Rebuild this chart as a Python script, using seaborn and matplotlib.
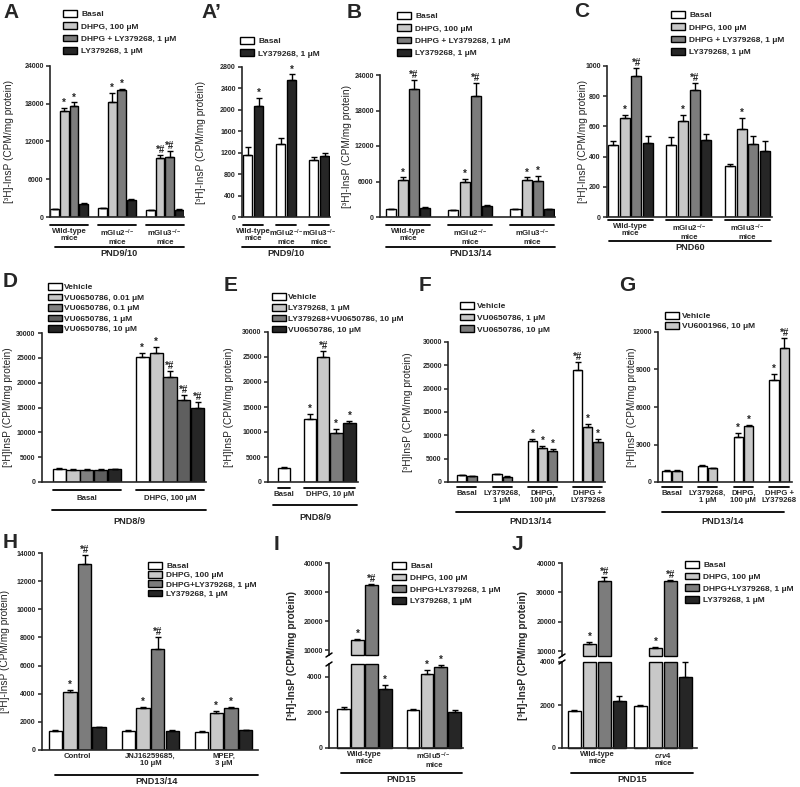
import numpy as np
import pandas as pd
import matplotlib
matplotlib.use("Agg")
import matplotlib.pyplot as plt
import seaborn as sns
from matplotlib.patches import Patch

# ---- data ----
MU = "\u03bcM"
WT = "Wild-type\nmice"

A_groups = [WT, "mGlu2$^{-/-}$\nmice", "mGlu3$^{-/-}$\nmice"]
A_series = ["Basal", f"DHPG, 100 {MU}", f"DHPG + LY379268, 1 {MU}", f"LY379268, 1 {MU}"]
A_mean = [[1250, 16850, 17650, 2100], [1400, 18250, 20200, 2700], [1050, 9400, 9500, 1150]]
A_sem = [[100, 450, 550, 120], [100, 1500, 220, 100], [80, 500, 1050, 80]]
A_marks = [["", "*", "*", ""], ["", "*", "*", ""], ["", "*#", "*#", ""]]

Ap_series = ["Basal", f"LY379268, 1 {MU}"]
Ap_mean = [[1160, 2070], [1360, 2550], [1060, 1140]]
Ap_sem = [[150, 150], [120, 110], [60, 60]]
Ap_marks = [["", "*"], ["", "*"], ["", ""]]

B_mean = [[1300, 6300, 21700, 1600], [1100, 6000, 20500, 1900], [1300, 6200, 6100, 1300]]
B_sem = [[100, 400, 1400, 100], [100, 500, 2200, 150], [100, 500, 800, 80]]
B_marks = [["", "*", "*#", ""], ["", "*", "*#", ""], ["", "*", "*", ""]]

C_mean = [[478, 654, 936, 493], [476, 639, 841, 511], [341, 584, 485, 438]]
C_sem = [[26, 22, 49, 44], [53, 37, 49, 37], [11, 72, 52, 62]]
C_marks = [["", "*", "*#", ""], ["", "*", "*#", ""], ["", "*", "", ""]]

D_groups = ["Basal", f"DHPG, 100 {MU}"]
D_series = ["Vehicle", f"VU0650786, 0.01 {MU}", f"VU0650786, 0.1 {MU}",
            f"VU0650786, 1 {MU}", f"VU0650786, 10 {MU}"]
D_mean = [[2650, 2450, 2450, 2450, 2550], [25100, 26000, 21100, 16500, 14800]]
D_sem = [[80, 250, 100, 120, 100], [900, 1200, 1300, 1000, 1400]]
D_marks = [["", "", "", "", ""], ["*", "*", "*#", "*#", "*#"]]

E_groups = ["Basal", f"DHPG, 10 {MU}"]
E_series = ["Vehicle", f"LY379268, 1 {MU}", f"LY379268+VU0650786, 10 {MU}", f"VU0650786, 10 {MU}"]
E_mean = [[2800, None, None, None], [12700, 24900, 9800, 11900]]
E_sem = [[200, None, None, None], [1000, 1300, 900, 400]]
E_marks = [["", "", "", ""], ["*", "*#", "*", "*"]]

F_groups = ["Basal", f"LY379268,\n1 {MU}", f"DHPG,\n100 {MU}", "DHPG +\nLY379268"]
F_series = ["Vehicle", f"VU0650786, 1 {MU}", f"VU0650786, 10 {MU}"]
F_mean = [[1400, None, 1200], [1700, None, 1150], [8700, 7300, 6600], [24100, 11700, 8500]]
F_sem = [[100, None, 80], [100, None, 100], [600, 500, 500], [1700, 700, 700]]
F_marks = [["", "", ""], ["", "", ""], ["*", "*", "*"], ["*#", "*", "*"]]

G_series = ["Vehicle", f"VU6001966, 10 {MU}"]
G_mean = [[900, 900], [1250, 1100], [3600, 4450], [8150, 10700]]
G_sem = [[50, 50], [100, 60], [300, 150], [500, 800]]
G_marks = [["", ""], ["", ""], ["*", "*"], ["*", "*#"]]

H_groups = ["Control", f"JNJ16259685,\n10 {MU}", f"MPEP,\n3 {MU}"]
H_series = ["Basal", f"DHPG, 100 {MU}", f"DHPG+LY379268, 1 {MU}", f"LY379268, 1 {MU}"]
H_mean = [[1350, 4120, 13200, 1600], [1350, 3000, 7200, 1350], [1300, 2650, 3000, 1400]]
H_sem = [[40, 150, 650, 60], [40, 80, 800, 40], [40, 100, 80, 50]]
H_marks = [["", "*", "*#", ""], ["", "*", "*#", ""], ["", "*", "*", ""]]

I_groups = [WT, "mGlu5$^{-/-}$\nmice"]
I_mean = [[2200, 13300, 32300, 3300], [2100, 4150, 4550, 2000]]
I_sem = [[100, 500, 300, 250], [80, 200, 100, 100]]
I_marks = [["", "*", "*#", "*"], ["", "*", "*", ""]]

J_groups = [WT, "$\\mathit{crv4}$\nmice"]
J_mean = [[1700, 12500, 33700, 2200], [1950, 11000, 33800, 3300]]
J_sem = [[50, 500, 1500, 200], [50, 500, 400, 700]]
J_marks = [["", "*", "*#", ""], ["", "*", "*#", ""]]

WHITE, LIGHT, MID, DARK = "#ffffff", "#c8c8c8", "#7c7c7c", "#262626"
PAL4 = [WHITE, LIGHT, MID, DARK]
PAL5 = [WHITE, LIGHT, "#808080", "#5f5f5f", DARK]

YLAB = "[\u00b3H]-InsP (CPM/mg protein)"
YLAB2 = "[\u00b3H]InsP (CPM/mg protein)"

# ---- style ----
W, H = 800, 787
sns.set_theme(style="ticks")
plt.rcParams["font.family"] = ["Liberation Sans", "DejaVu Sans"]
plt.rcParams["font.weight"] = "bold"
plt.rcParams["mathtext.fontset"] = "custom"
plt.rcParams["mathtext.rm"] = "Liberation Sans:bold"
plt.rcParams["mathtext.bf"] = "Liberation Sans:bold"
plt.rcParams["mathtext.it"] = "Liberation Sans:bold:italic"
plt.rcParams["axes.linewidth"] = 1.2

fig = plt.figure(figsize=(8, 7.87), dpi=100)


def px_axes(x0, x1, ytop, ybot):
    return fig.add_axes([x0 / W, 1 - ybot / H, (x1 - x0) / W, (ybot - ytop) / H])


def bar_frame(groups, series, means, sems, marks, gap=1.0):
    rows = []
    start = 0.0
    for gi, g in enumerate(groups):
        k = 0
        for si, s in enumerate(series):
            if means[gi][si] is None:
                continue
            rows.append(dict(group=g, series=s, pos=start + k, value=means[gi][si],
                             err=sems[gi][si], mark=marks[gi][si]))
            k += 1
        start += k + gap
    return pd.DataFrame(rows)


def style_ax(ax, ylim, yticks, xlim, bottom=True):
    ax.set_ylim(*ylim)
    ax.set_yticks(yticks)
    ax.set_yticklabels([str(t) for t in yticks])
    ax.set_xlim(*xlim)
    ax.set_xticks([])
    ax.set_xlabel("")
    ax.set_ylabel("")
    ax.tick_params(axis="y", labelsize=5, length=3, width=1.1, pad=1.5)
    for s in ["top", "right"]:
        ax.spines[s].set_visible(False)
    if not bottom:
        ax.spines["bottom"].set_visible(False)
    ax.set_facecolor("none")


def draw_bars(ax, df, series, colors, bw=0.9):
    sns.barplot(data=df, x="pos", y="value", hue="series", hue_order=series,
                palette=dict(zip(series, colors)), native_scale=True, dodge=False,
                width=bw, edgecolor="black", linewidth=1.0, errorbar=None,
                legend=False, ax=ax)


def draw_err(ax, df, pad, fs=7):
    if len(df) == 0:
        return
    ax.errorbar(df["pos"], df["value"], yerr=[np.zeros(len(df)), df["err"]], fmt="none",
                ecolor="black", elinewidth=1.0, capsize=2, capthick=1.0, zorder=3,
                clip_on=False)
    for _, r in df.iterrows():
        if r["mark"]:
            ax.text(r["pos"], r["value"] + r["err"] + pad, r["mark"], ha="center",
                    va="bottom", fontsize=fs, fontweight="bold")


def group_labels(ax, df, ax_h, lab_dy, line_dy=None, fs=5.6, over=0.45):
    tr = ax.get_xaxis_transform()
    for g, sub in df.groupby("group", sort=False):
        a, b = sub["pos"].min(), sub["pos"].max()
        if line_dy is not None:
            ax.plot([a - over, b + over], [-line_dy / ax_h] * 2, transform=tr,
                    clip_on=False, color="black", lw=1.3)
        ax.text((a + b) / 2, -lab_dy / ax_h, g, transform=tr, ha="center", va="top",
                fontsize=fs, linespacing=1.0)


def pnd(ax, ax_h, text, x0, x1, line_dy, text_dy, fs=6.6):
    tr = ax.get_xaxis_transform()
    ax.plot([x0, x1], [-line_dy / ax_h] * 2, transform=tr, clip_on=False, color="black", lw=1.3)
    ax.text((x0 + x1) / 2, -text_dy / ax_h, text, transform=tr, ha="center", va="center",
            fontsize=fs)


def legend(series, colors, x, y, spacing=0.5, fs=6, tpad=0.5):
    handles = [Patch(facecolor=c, edgecolor="black", linewidth=1.0, label=s)
               for s, c in zip(series, colors)]
    fig.legend(handles=handles, loc="upper left", bbox_to_anchor=(x / W, 1 - y / H),
               frameon=False, fontsize=fs, handlelength=1.7, handleheight=0.85,
               labelspacing=spacing, handletextpad=tpad, borderpad=0, borderaxespad=0)


def letter(t, x, y):
    fig.text(x / W, 1 - y / H, t, fontsize=15, fontweight="bold", va="top", ha="left")


def simple_panel(box, groups, series, colors, means, sems, marks, ylim, yticks, xlim,
                 gap=1.0, bw=0.9, underline=True, lab_dy=11, line_dy=8):
    x0, x1, yt, yb = box
    ax = px_axes(*box)
    df = bar_frame(groups, series, means, sems, marks, gap)
    draw_bars(ax, df, series, colors, bw)
    style_ax(ax, ylim, yticks, xlim)
    draw_err(ax, df, 0)
    group_labels(ax, df, yb - yt, lab_dy, line_dy if underline else None)
    return ax, df


# ---- top row ----
ax, df = simple_panel((50, 184, 66, 217), A_groups, A_series, PAL4, A_mean, A_sem, A_marks,
                      (0, 24000), [0, 6000, 12000, 18000, 24000], (-0.5, 13.5))
ax.set_ylabel(YLAB, fontsize=7.3); ax.yaxis.set_label_coords((14 - 50) / 134, 0.5)
pnd(ax, 151, "PND9/10", 0.0, 13.5, 30, 36)
legend(A_series, PAL4, 63, 10)
letter("A", 3, 3)

ax, df = simple_panel((242, 330, 67, 217), A_groups, Ap_series, [WHITE, DARK], Ap_mean, Ap_sem,
                      Ap_marks, (0, 2800), list(range(0, 2801, 400)), (-0.5, 7.5))
ax.set_ylabel(YLAB, fontsize=7.3); ax.yaxis.set_label_coords((206 - 242) / 88, 0.5)
pnd(ax, 150, "PND9/10", -0.5, 7.5, 30, 36)
legend(Ap_series, [WHITE, DARK], 240, 37)
letter("A\u2019", 201, 3)

ax, df = simple_panel((380, 555, 75, 217), A_groups, A_series, PAL4, B_mean, B_sem, B_marks,
                      (0, 24000), [0, 6000, 12000, 18000, 24000], (-1.0, 14.5), gap=1.5)
ax.set_ylabel(YLAB, fontsize=7.3); ax.yaxis.set_label_coords((352 - 380) / 175, 0.5)
pnd(ax, 142, "PND13/14", -0.5, 14.5, 30, 36)
legend(A_series, PAL4, 397, 12)
letter("B", 347, 3)

ax, df = simple_panel((607, 772, 66, 217), A_groups, A_series, PAL4, C_mean, C_sem, C_marks,
                      (0, 1000), list(range(0, 1001, 200)), (-0.5, 13.6), bw=0.85,
                      lab_dy=6, line_dy=3)
ax.set_ylabel(YLAB, fontsize=7.3); ax.yaxis.set_label_coords((588 - 607) / 165, 0.5)
pnd(ax, 151, "PND60", -0.3, 13.5, 24, 31)
legend(A_series, PAL4, 671, 11)
letter("C", 574, 2)

# ---- middle row ----
ax, df = simple_panel((42, 206, 333, 482), D_groups, D_series, PAL5, D_mean, D_sem, D_marks,
                      (0, 30000), list(range(0, 30001, 5000)), (-1.24, 10.6), bw=0.95,
                      lab_dy=13, line_dy=8)
ax.set_ylabel(YLAB2, fontsize=7.3); ax.yaxis.set_label_coords((13 - 42) / 164, 0.5)
pnd(ax, 149, "PND8/9", -0.5, 10.6, 28, 39)
legend(D_series, PAL5, 48, 283, spacing=0.28, tpad=0.2)
letter("D", 3, 272)

ax, df = simple_panel((268, 358, 332, 482), E_groups, E_series, PAL4, E_mean, E_sem, E_marks,
                      (0, 30000), list(range(0, 30001, 5000)), (-1.2, 5.65), bw=0.95,
                      lab_dy=9, line_dy=6)
ax.set_ylabel(YLAB2, fontsize=7.3); ax.yaxis.set_label_coords((234 - 268) / 90, 0.5)
pnd(ax, 150, "PND8/9", -0.8, 5.6, 23, 35)
legend(E_series, PAL4, 272, 293, spacing=0.32, tpad=0.2)
letter("E", 224, 276)

ax, df = simple_panel((448, 605, 342, 482), F_groups, F_series, [WHITE, LIGHT, MID], F_mean,
                      F_sem, F_marks, (0, 30000), list(range(0, 30001, 5000)), (-1.37, 14.2),
                      gap=1.5, bw=0.92, lab_dy=8, line_dy=5)
ax.set_ylabel(YLAB2, fontsize=7.3); ax.yaxis.set_label_coords((413 - 448) / 157, 0.5)
pnd(ax, 140, "PND13/14", -0.6, 14.2, 30, 40)
legend(F_series, [WHITE, LIGHT, MID], 460, 302, spacing=0.42, tpad=0.3)
letter("F", 419, 276)

ax, df = simple_panel((658, 792, 332, 482), F_groups, G_series, [WHITE, LIGHT], G_mean, G_sem,
                      G_marks, (0, 12000), [0, 3000, 6000, 9000, 12000], (-0.85, 12.25),
                      gap=1.5, bw=0.92, lab_dy=8, line_dy=5)
ax.set_ylabel(YLAB2, fontsize=7.3); ax.yaxis.set_label_coords((637 - 658) / 134, 0.5)
pnd(ax, 150, "PND13/14", -0.5, 11.5, 30, 40)
legend(G_series, [WHITE, LIGHT], 665, 312, spacing=0.2, tpad=0.3)
letter("G", 619, 276)

# ---- bottom row ----
ax, df = simple_panel((42, 258, 553, 750), H_groups, H_series, PAL4, H_mean, H_sem, H_marks,
                      (0, 14000), list(range(0, 14001, 2000)), (-0.91, 13.85), bw=0.92,
                      underline=False, lab_dy=3)
ax.set_ylabel(YLAB, fontsize=7.3); ax.yaxis.set_label_coords((10 - 42) / 216, 0.5)
pnd(ax, 197, "PND13/14", 0.0, 13.85, 25, 32)
legend(H_series, PAL4, 148, 562, spacing=0.12)
letter("H", 3, 533)


def broken_panel(x0, x1, up, low, groups, means, sems, marks, upper_lim, lower_lim,
                 lower_ticks, xlim, gap, ylab_x, legend_xy, let, let_xy):
    df = bar_frame(groups, H_series, means, sems, marks, gap)
    ax_u = px_axes(x0, x1, up[0], up[1])
    ax_l = px_axes(x0, x1, low[0], low[1])
    for ax, lim, ticks, is_low in [(ax_u, upper_lim, [10000, 20000, 30000, 40000], False),
                                   (ax_l, lower_lim, lower_ticks, True)]:
        draw_bars(ax, df, H_series, PAL4, 0.92)
        style_ax(ax, lim, ticks, xlim, bottom=is_low)
        # cut the bars at the axis break so both pieces stay closed boxes
        for p in ax.patches:
            p.set_clip_on(False)
            top = p.get_y() + p.get_height()
            if is_low and top > lim[1]:
                p.set_height(lim[1])
            if not is_low:
                if top > lim[0]:
                    p.set_y(lim[0]); p.set_height(top - lim[0])
                else:
                    p.set_visible(False)
    draw_err(ax_u, df[df["value"] > upper_lim[0]], 0)
    draw_err(ax_l, df[df["value"] < lower_lim[1]], 0)
    # break marks on the y axis
    for yy in (up[1], low[0]):
        fig.add_artist(plt.Line2D([(x0 - 3) / W, (x0 + 3) / W],
                                  [1 - (yy + 2) / H, 1 - (yy - 2) / H],
                                  color="black", lw=1.1))
    group_labels(ax_l, df, low[1] - low[0], 3, None)
    pnd(ax_l, low[1] - low[0], "PND15", -0.2, df["pos"].max() + 0.5, 25, 32)
    fig.text(ylab_x / W, 1 - (up[0] + low[1]) / 2 / H, YLAB, rotation=90, ha="center",
             va="center", fontsize=7.3)
    legend(H_series, PAL4, legend_xy[0], legend_xy[1], spacing=0.42)
    letter(let, *let_xy)


broken_panel(329, 463, (563, 655), (664, 748), I_groups, I_mean, I_sem, I_marks,
             (8300, 40000), (0, 4700), [0, 2000, 4000], (-1.05, 8.6), 1.0, 292,
             (392, 562), "I", (274, 535))
broken_panel(562, 697, (563, 656), (662, 748), J_groups, J_mean, J_sem, J_marks,
             (8300, 40000), (0, 4000), [0, 2000, 4000], (-0.83, 8.17), 0.4, 523,
             (685, 561), "J", (512, 535))

fig.savefig("out.png", dpi=100)
